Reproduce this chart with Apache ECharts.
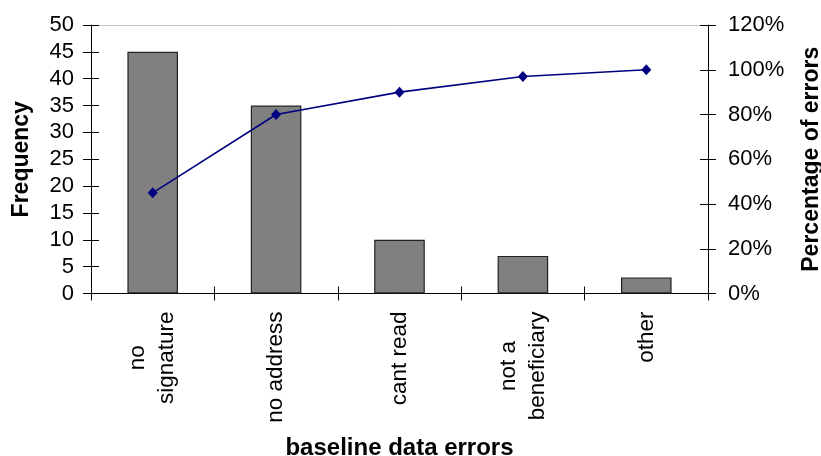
<!DOCTYPE html>
<html>
<head>
<meta charset="utf-8">
<script src="https://cdn.jsdelivr.net/npm/echarts@6/dist/echarts.min.js"></script>
<style>
  html, body { margin: 0; padding: 0; background: #fff; }
  #chart { width: 821px; height: 456px; }
</style>
</head>
<body>
<div id="chart"></div>
<script>
// Error categories, counts and cumulative share of all errors
const categories = ['no\nsignature', 'no address', 'cant read', 'not a\nbeneficiary', 'other'];
const frequency = [45, 35, 10, 7, 3];
const cumulativePct = [45, 80, 90, 97, 100];

// Axis scales
const freqAxis = { min: 0, max: 50, interval: 5 };
const pctAxis = { min: 0, max: 120, interval: 20 };

const FONT = '"Liberation Sans", Arial, Helvetica, sans-serif';
const INK = '#000';
const axisLine = { show: true, onZero: false, lineStyle: { color: '#000', width: 1 } };
const tickStyle = { color: '#000', width: 1 };

const chart = echarts.init(document.getElementById('chart'), null, { renderer: 'canvas' });

chart.setOption({
  animation: false,
  backgroundColor: '#fff',
  grid: { left: 91, right: 113, top: 25, bottom: 162.5, containLabel: false, outerBoundsMode: 'none' },
  xAxis: [
    {
      type: 'category',
      data: categories,
      position: 'bottom',
      axisLine: axisLine,
      axisTick: { show: true, length: 7, lineStyle: tickStyle },
      axisLabel: {
        interval: 0,
        rotate: 90,
        margin: 18,
        color: INK,
        fontFamily: FONT,
        fontSize: 22.5,
        lineHeight: 29,
        formatter: v => v.split('\n').map(s => '{c|' + s + '}').join('\n'),
        rich: { c: { align: 'center', fontFamily: FONT, fontSize: 22.5, lineHeight: 29, color: INK } }
      },
      name: 'baseline data errors',
      nameLocation: 'middle',
      nameGap: 143,
      nameTextStyle: { fontFamily: FONT, fontSize: 24, fontWeight: 'bold', color: INK }
    },
    {
      // inner half of the crossing category ticks
      type: 'category',
      data: categories,
      position: 'bottom',
      axisLine: { show: false, onZero: false },
      axisTick: { show: true, inside: true, length: 7, lineStyle: tickStyle },
      axisLabel: { show: false }
    },
    {
      // light frame line along the top of the plot
      type: 'category',
      data: categories,
      position: 'top',
      axisLine: { show: true, onZero: false, lineStyle: { color: '#c4c4c4', width: 1 } },
      axisTick: { show: false },
      axisLabel: { show: false }
    }
  ],
  yAxis: [
    {
      type: 'value',
      position: 'left',
      min: freqAxis.min, max: freqAxis.max, interval: freqAxis.interval,
      axisLine: axisLine,
      axisTick: { show: true, length: 8, lineStyle: tickStyle },
      axisLabel: { margin: 17, color: INK, fontFamily: FONT, fontSize: 22 },
      splitLine: { show: false },
      name: 'Frequency',
      nameLocation: 'middle',
      nameRotate: 90,
      nameGap: 58,
      nameTextStyle: { fontFamily: FONT, fontSize: 23, fontWeight: 'bold', color: INK }
    },
    {
      // inner half of the crossing frequency ticks
      type: 'value',
      position: 'left',
      min: freqAxis.min, max: freqAxis.max, interval: freqAxis.interval,
      axisLine: { show: false, onZero: false },
      axisTick: { show: true, inside: true, length: 8, lineStyle: tickStyle },
      axisLabel: { show: false },
      splitLine: { show: false }
    },
    {
      type: 'value',
      position: 'right',
      min: pctAxis.min, max: pctAxis.max, interval: pctAxis.interval,
      axisLine: axisLine,
      axisTick: { show: true, length: 8, lineStyle: tickStyle },
      axisLabel: { margin: 20, color: INK, fontFamily: FONT, fontSize: 22, formatter: '{value}%' },
      splitLine: { show: false },
      name: 'Percentage of errors',
      nameLocation: 'middle',
      nameRotate: 90,
      nameGap: 92,
      nameTextStyle: { fontFamily: FONT, fontSize: 23, fontWeight: 'bold', color: INK }
    },
    {
      // inner half of the crossing percentage ticks
      type: 'value',
      position: 'right',
      min: pctAxis.min, max: pctAxis.max, interval: pctAxis.interval,
      axisLine: { show: false, onZero: false },
      axisTick: { show: true, inside: true, length: 8, lineStyle: tickStyle },
      axisLabel: { show: false },
      splitLine: { show: false }
    }
  ],
  series: [
    {
      name: 'Frequency',
      type: 'bar',
      xAxisIndex: 0,
      yAxisIndex: 0,
      data: frequency,
      barWidth: '41%',
      itemStyle: { color: '#808080', borderColor: '#222', borderWidth: 1.2 }
    },
    {
      name: 'Percentage of errors',
      type: 'line',
      xAxisIndex: 0,
      yAxisIndex: 2,
      data: cumulativePct,
      symbol: 'diamond',
      symbolSize: [10, 11],
      lineStyle: { color: '#000080', width: 1.6 },
      itemStyle: { color: '#000080' },
      z: 5
    }
  ]
});
</script>
</body>
</html>
